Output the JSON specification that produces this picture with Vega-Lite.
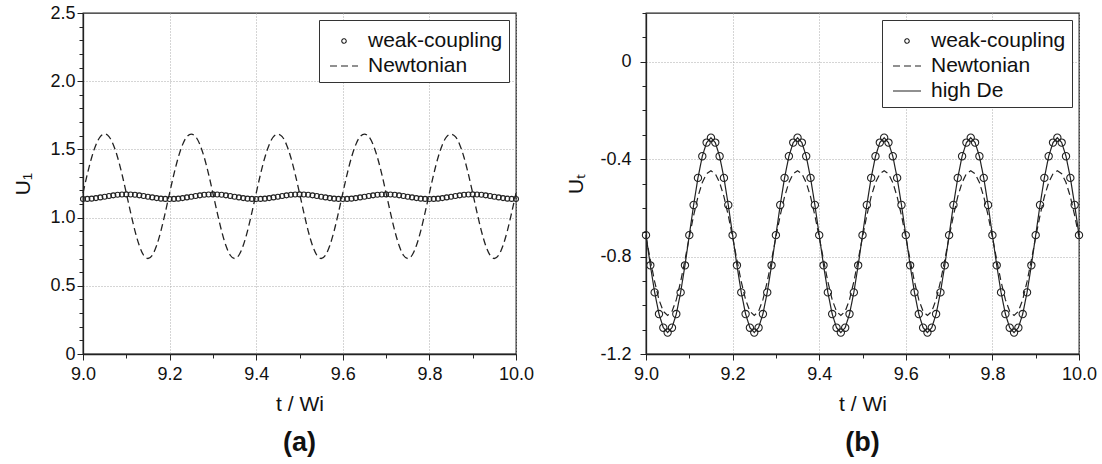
{
  "$schema": "https://vega.github.io/schema/vega-lite/v6.json",
  "background": "white",
  "padding": {"left": 12, "top": 3, "right": 5, "bottom": 2},
  "datasets": {
    "L": [
      {"t":9.00,"weak-coupling":1.136,"Newtonian":1.180},{"t":9.01,"weak-coupling":1.137,"Newtonian":1.319},{"t":9.02,"weak-coupling":1.139,"Newtonian":1.441},{"t":9.03,"weak-coupling":1.143,"Newtonian":1.535},{"t":9.04,"weak-coupling":1.148,"Newtonian":1.594},{"t":9.05,"weak-coupling":1.153,"Newtonian":1.614},{"t":9.06,"weak-coupling":1.158,"Newtonian":1.594},{"t":9.07,"weak-coupling":1.163,"Newtonian":1.535},{"t":9.08,"weak-coupling":1.167,"Newtonian":1.441},{"t":9.09,"weak-coupling":1.169,"Newtonian":1.319},
      {"t":9.10,"weak-coupling":1.170,"Newtonian":1.180},{"t":9.11,"weak-coupling":1.169,"Newtonian":1.037},{"t":9.12,"weak-coupling":1.167,"Newtonian":0.903},{"t":9.13,"weak-coupling":1.163,"Newtonian":0.795},{"t":9.14,"weak-coupling":1.158,"Newtonian":0.724},{"t":9.15,"weak-coupling":1.153,"Newtonian":0.700},{"t":9.16,"weak-coupling":1.148,"Newtonian":0.724},{"t":9.17,"weak-coupling":1.143,"Newtonian":0.795},{"t":9.18,"weak-coupling":1.139,"Newtonian":0.903},{"t":9.19,"weak-coupling":1.137,"Newtonian":1.037},
      {"t":9.20,"weak-coupling":1.136,"Newtonian":1.180},{"t":9.21,"weak-coupling":1.137,"Newtonian":1.319},{"t":9.22,"weak-coupling":1.139,"Newtonian":1.441},{"t":9.23,"weak-coupling":1.143,"Newtonian":1.535},{"t":9.24,"weak-coupling":1.148,"Newtonian":1.594},{"t":9.25,"weak-coupling":1.153,"Newtonian":1.612},{"t":9.26,"weak-coupling":1.158,"Newtonian":1.594},{"t":9.27,"weak-coupling":1.163,"Newtonian":1.535},{"t":9.28,"weak-coupling":1.167,"Newtonian":1.441},{"t":9.29,"weak-coupling":1.169,"Newtonian":1.319},
      {"t":9.30,"weak-coupling":1.170,"Newtonian":1.180},{"t":9.31,"weak-coupling":1.169,"Newtonian":1.037},{"t":9.32,"weak-coupling":1.167,"Newtonian":0.903},{"t":9.33,"weak-coupling":1.163,"Newtonian":0.795},{"t":9.34,"weak-coupling":1.158,"Newtonian":0.724},{"t":9.35,"weak-coupling":1.153,"Newtonian":0.700},{"t":9.36,"weak-coupling":1.148,"Newtonian":0.724},{"t":9.37,"weak-coupling":1.143,"Newtonian":0.795},{"t":9.38,"weak-coupling":1.139,"Newtonian":0.903},{"t":9.39,"weak-coupling":1.137,"Newtonian":1.037},
      {"t":9.40,"weak-coupling":1.136,"Newtonian":1.180},{"t":9.41,"weak-coupling":1.137,"Newtonian":1.319},{"t":9.42,"weak-coupling":1.139,"Newtonian":1.441},{"t":9.43,"weak-coupling":1.143,"Newtonian":1.535},{"t":9.44,"weak-coupling":1.148,"Newtonian":1.594},{"t":9.45,"weak-coupling":1.153,"Newtonian":1.612},{"t":9.46,"weak-coupling":1.158,"Newtonian":1.594},{"t":9.47,"weak-coupling":1.163,"Newtonian":1.535},{"t":9.48,"weak-coupling":1.167,"Newtonian":1.441},{"t":9.49,"weak-coupling":1.169,"Newtonian":1.319},
      {"t":9.50,"weak-coupling":1.170,"Newtonian":1.180},{"t":9.51,"weak-coupling":1.169,"Newtonian":1.037},{"t":9.52,"weak-coupling":1.167,"Newtonian":0.903},{"t":9.53,"weak-coupling":1.163,"Newtonian":0.795},{"t":9.54,"weak-coupling":1.158,"Newtonian":0.724},{"t":9.55,"weak-coupling":1.153,"Newtonian":0.700},{"t":9.56,"weak-coupling":1.148,"Newtonian":0.724},{"t":9.57,"weak-coupling":1.143,"Newtonian":0.795},{"t":9.58,"weak-coupling":1.139,"Newtonian":0.903},{"t":9.59,"weak-coupling":1.137,"Newtonian":1.037},
      {"t":9.60,"weak-coupling":1.136,"Newtonian":1.180},{"t":9.61,"weak-coupling":1.137,"Newtonian":1.319},{"t":9.62,"weak-coupling":1.139,"Newtonian":1.441},{"t":9.63,"weak-coupling":1.143,"Newtonian":1.535},{"t":9.64,"weak-coupling":1.148,"Newtonian":1.594},{"t":9.65,"weak-coupling":1.153,"Newtonian":1.612},{"t":9.66,"weak-coupling":1.158,"Newtonian":1.594},{"t":9.67,"weak-coupling":1.163,"Newtonian":1.535},{"t":9.68,"weak-coupling":1.167,"Newtonian":1.441},{"t":9.69,"weak-coupling":1.169,"Newtonian":1.319},
      {"t":9.70,"weak-coupling":1.170,"Newtonian":1.180},{"t":9.71,"weak-coupling":1.169,"Newtonian":1.037},{"t":9.72,"weak-coupling":1.167,"Newtonian":0.903},{"t":9.73,"weak-coupling":1.163,"Newtonian":0.795},{"t":9.74,"weak-coupling":1.158,"Newtonian":0.724},{"t":9.75,"weak-coupling":1.153,"Newtonian":0.700},{"t":9.76,"weak-coupling":1.148,"Newtonian":0.724},{"t":9.77,"weak-coupling":1.143,"Newtonian":0.795},{"t":9.78,"weak-coupling":1.139,"Newtonian":0.903},{"t":9.79,"weak-coupling":1.137,"Newtonian":1.037},
      {"t":9.80,"weak-coupling":1.136,"Newtonian":1.180},{"t":9.81,"weak-coupling":1.137,"Newtonian":1.319},{"t":9.82,"weak-coupling":1.139,"Newtonian":1.441},{"t":9.83,"weak-coupling":1.143,"Newtonian":1.535},{"t":9.84,"weak-coupling":1.148,"Newtonian":1.594},{"t":9.85,"weak-coupling":1.153,"Newtonian":1.612},{"t":9.86,"weak-coupling":1.158,"Newtonian":1.594},{"t":9.87,"weak-coupling":1.163,"Newtonian":1.535},{"t":9.88,"weak-coupling":1.167,"Newtonian":1.441},{"t":9.89,"weak-coupling":1.169,"Newtonian":1.319},
      {"t":9.90,"weak-coupling":1.170,"Newtonian":1.180},{"t":9.91,"weak-coupling":1.169,"Newtonian":1.037},{"t":9.92,"weak-coupling":1.167,"Newtonian":0.903},{"t":9.93,"weak-coupling":1.163,"Newtonian":0.795},{"t":9.94,"weak-coupling":1.158,"Newtonian":0.724},{"t":9.95,"weak-coupling":1.153,"Newtonian":0.700},{"t":9.96,"weak-coupling":1.148,"Newtonian":0.724},{"t":9.97,"weak-coupling":1.143,"Newtonian":0.795},{"t":9.98,"weak-coupling":1.139,"Newtonian":0.903},{"t":9.99,"weak-coupling":1.137,"Newtonian":1.037},
      {"t":10.00,"weak-coupling":1.136,"Newtonian":1.180}
    ],
    "R": [
      {"t":9.00,"weak-coupling":-0.712,"Newtonian":-0.720,"high De":-0.712},{"t":9.01,"weak-coupling":-0.836,"Newtonian":-0.814,"high De":-0.836},{"t":9.02,"weak-coupling":-0.947,"Newtonian":-0.903,"high De":-0.947},{"t":9.03,"weak-coupling":-1.036,"Newtonian":-0.977,"high De":-1.036},{"t":9.04,"weak-coupling":-1.092,"Newtonian":-1.025,"high De":-1.092},{"t":9.05,"weak-coupling":-1.112,"Newtonian":-1.042,"high De":-1.112},{"t":9.06,"weak-coupling":-1.092,"Newtonian":-1.025,"high De":-1.092},{"t":9.07,"weak-coupling":-1.036,"Newtonian":-0.977,"high De":-1.036},{"t":9.08,"weak-coupling":-0.947,"Newtonian":-0.903,"high De":-0.947},{"t":9.09,"weak-coupling":-0.836,"Newtonian":-0.814,"high De":-0.836},
      {"t":9.10,"weak-coupling":-0.712,"Newtonian":-0.720,"high De":-0.712},{"t":9.11,"weak-coupling":-0.588,"Newtonian":-0.631,"high De":-0.588},{"t":9.12,"weak-coupling":-0.477,"Newtonian":-0.554,"high De":-0.477},{"t":9.13,"weak-coupling":-0.388,"Newtonian":-0.496,"high De":-0.388},{"t":9.14,"weak-coupling":-0.332,"Newtonian":-0.460,"high De":-0.332},{"t":9.15,"weak-coupling":-0.312,"Newtonian":-0.448,"high De":-0.312},{"t":9.16,"weak-coupling":-0.332,"Newtonian":-0.460,"high De":-0.332},{"t":9.17,"weak-coupling":-0.388,"Newtonian":-0.496,"high De":-0.388},{"t":9.18,"weak-coupling":-0.477,"Newtonian":-0.554,"high De":-0.477},{"t":9.19,"weak-coupling":-0.588,"Newtonian":-0.631,"high De":-0.588},
      {"t":9.20,"weak-coupling":-0.712,"Newtonian":-0.720,"high De":-0.712},{"t":9.21,"weak-coupling":-0.836,"Newtonian":-0.814,"high De":-0.836},{"t":9.22,"weak-coupling":-0.947,"Newtonian":-0.903,"high De":-0.947},{"t":9.23,"weak-coupling":-1.036,"Newtonian":-0.977,"high De":-1.036},{"t":9.24,"weak-coupling":-1.092,"Newtonian":-1.025,"high De":-1.092},{"t":9.25,"weak-coupling":-1.112,"Newtonian":-1.042,"high De":-1.112},{"t":9.26,"weak-coupling":-1.092,"Newtonian":-1.025,"high De":-1.092},{"t":9.27,"weak-coupling":-1.036,"Newtonian":-0.977,"high De":-1.036},{"t":9.28,"weak-coupling":-0.947,"Newtonian":-0.903,"high De":-0.947},{"t":9.29,"weak-coupling":-0.836,"Newtonian":-0.814,"high De":-0.836},
      {"t":9.30,"weak-coupling":-0.712,"Newtonian":-0.720,"high De":-0.712},{"t":9.31,"weak-coupling":-0.588,"Newtonian":-0.631,"high De":-0.588},{"t":9.32,"weak-coupling":-0.477,"Newtonian":-0.554,"high De":-0.477},{"t":9.33,"weak-coupling":-0.388,"Newtonian":-0.496,"high De":-0.388},{"t":9.34,"weak-coupling":-0.332,"Newtonian":-0.460,"high De":-0.332},{"t":9.35,"weak-coupling":-0.312,"Newtonian":-0.448,"high De":-0.312},{"t":9.36,"weak-coupling":-0.332,"Newtonian":-0.460,"high De":-0.332},{"t":9.37,"weak-coupling":-0.388,"Newtonian":-0.496,"high De":-0.388},{"t":9.38,"weak-coupling":-0.477,"Newtonian":-0.554,"high De":-0.477},{"t":9.39,"weak-coupling":-0.588,"Newtonian":-0.631,"high De":-0.588},
      {"t":9.40,"weak-coupling":-0.712,"Newtonian":-0.720,"high De":-0.712},{"t":9.41,"weak-coupling":-0.836,"Newtonian":-0.814,"high De":-0.836},{"t":9.42,"weak-coupling":-0.947,"Newtonian":-0.903,"high De":-0.947},{"t":9.43,"weak-coupling":-1.036,"Newtonian":-0.977,"high De":-1.036},{"t":9.44,"weak-coupling":-1.092,"Newtonian":-1.025,"high De":-1.092},{"t":9.45,"weak-coupling":-1.112,"Newtonian":-1.042,"high De":-1.112},{"t":9.46,"weak-coupling":-1.092,"Newtonian":-1.025,"high De":-1.092},{"t":9.47,"weak-coupling":-1.036,"Newtonian":-0.977,"high De":-1.036},{"t":9.48,"weak-coupling":-0.947,"Newtonian":-0.903,"high De":-0.947},{"t":9.49,"weak-coupling":-0.836,"Newtonian":-0.814,"high De":-0.836},
      {"t":9.50,"weak-coupling":-0.712,"Newtonian":-0.720,"high De":-0.712},{"t":9.51,"weak-coupling":-0.588,"Newtonian":-0.631,"high De":-0.588},{"t":9.52,"weak-coupling":-0.477,"Newtonian":-0.554,"high De":-0.477},{"t":9.53,"weak-coupling":-0.388,"Newtonian":-0.496,"high De":-0.388},{"t":9.54,"weak-coupling":-0.332,"Newtonian":-0.460,"high De":-0.332},{"t":9.55,"weak-coupling":-0.312,"Newtonian":-0.448,"high De":-0.312},{"t":9.56,"weak-coupling":-0.332,"Newtonian":-0.460,"high De":-0.332},{"t":9.57,"weak-coupling":-0.388,"Newtonian":-0.496,"high De":-0.388},{"t":9.58,"weak-coupling":-0.477,"Newtonian":-0.554,"high De":-0.477},{"t":9.59,"weak-coupling":-0.588,"Newtonian":-0.631,"high De":-0.588},
      {"t":9.60,"weak-coupling":-0.712,"Newtonian":-0.720,"high De":-0.712},{"t":9.61,"weak-coupling":-0.836,"Newtonian":-0.814,"high De":-0.836},{"t":9.62,"weak-coupling":-0.947,"Newtonian":-0.903,"high De":-0.947},{"t":9.63,"weak-coupling":-1.036,"Newtonian":-0.977,"high De":-1.036},{"t":9.64,"weak-coupling":-1.092,"Newtonian":-1.025,"high De":-1.092},{"t":9.65,"weak-coupling":-1.112,"Newtonian":-1.042,"high De":-1.112},{"t":9.66,"weak-coupling":-1.092,"Newtonian":-1.025,"high De":-1.092},{"t":9.67,"weak-coupling":-1.036,"Newtonian":-0.977,"high De":-1.036},{"t":9.68,"weak-coupling":-0.947,"Newtonian":-0.903,"high De":-0.947},{"t":9.69,"weak-coupling":-0.836,"Newtonian":-0.814,"high De":-0.836},
      {"t":9.70,"weak-coupling":-0.712,"Newtonian":-0.720,"high De":-0.712},{"t":9.71,"weak-coupling":-0.588,"Newtonian":-0.631,"high De":-0.588},{"t":9.72,"weak-coupling":-0.477,"Newtonian":-0.554,"high De":-0.477},{"t":9.73,"weak-coupling":-0.388,"Newtonian":-0.496,"high De":-0.388},{"t":9.74,"weak-coupling":-0.332,"Newtonian":-0.460,"high De":-0.332},{"t":9.75,"weak-coupling":-0.312,"Newtonian":-0.448,"high De":-0.312},{"t":9.76,"weak-coupling":-0.332,"Newtonian":-0.460,"high De":-0.332},{"t":9.77,"weak-coupling":-0.388,"Newtonian":-0.496,"high De":-0.388},{"t":9.78,"weak-coupling":-0.477,"Newtonian":-0.554,"high De":-0.477},{"t":9.79,"weak-coupling":-0.588,"Newtonian":-0.631,"high De":-0.588},
      {"t":9.80,"weak-coupling":-0.712,"Newtonian":-0.720,"high De":-0.712},{"t":9.81,"weak-coupling":-0.836,"Newtonian":-0.814,"high De":-0.836},{"t":9.82,"weak-coupling":-0.947,"Newtonian":-0.903,"high De":-0.947},{"t":9.83,"weak-coupling":-1.036,"Newtonian":-0.977,"high De":-1.036},{"t":9.84,"weak-coupling":-1.092,"Newtonian":-1.025,"high De":-1.092},{"t":9.85,"weak-coupling":-1.112,"Newtonian":-1.042,"high De":-1.112},{"t":9.86,"weak-coupling":-1.092,"Newtonian":-1.025,"high De":-1.092},{"t":9.87,"weak-coupling":-1.036,"Newtonian":-0.977,"high De":-1.036},{"t":9.88,"weak-coupling":-0.947,"Newtonian":-0.903,"high De":-0.947},{"t":9.89,"weak-coupling":-0.836,"Newtonian":-0.814,"high De":-0.836},
      {"t":9.90,"weak-coupling":-0.712,"Newtonian":-0.720,"high De":-0.712},{"t":9.91,"weak-coupling":-0.588,"Newtonian":-0.631,"high De":-0.588},{"t":9.92,"weak-coupling":-0.477,"Newtonian":-0.554,"high De":-0.477},{"t":9.93,"weak-coupling":-0.388,"Newtonian":-0.496,"high De":-0.388},{"t":9.94,"weak-coupling":-0.332,"Newtonian":-0.460,"high De":-0.332},{"t":9.95,"weak-coupling":-0.312,"Newtonian":-0.448,"high De":-0.312},{"t":9.96,"weak-coupling":-0.332,"Newtonian":-0.460,"high De":-0.332},{"t":9.97,"weak-coupling":-0.388,"Newtonian":-0.496,"high De":-0.388},{"t":9.98,"weak-coupling":-0.477,"Newtonian":-0.554,"high De":-0.477},{"t":9.99,"weak-coupling":-0.588,"Newtonian":-0.631,"high De":-0.588},
      {"t":10.00,"weak-coupling":-0.712,"Newtonian":-0.720,"high De":-0.712}
    ]
  },
  "config": {
    "font": "Liberation Sans",
    "view": {"stroke": "#222", "strokeWidth": 1.3},
    "axis": {
      "domainColor": "#222", "domainWidth": 1.3, "tickColor": "#222", "tickWidth": 1,
      "labelFont": "Liberation Sans", "labelFontSize": 18, "labelColor": "#111",
      "titleFont": "Liberation Sans", "titleFontSize": 21, "titleFontWeight": "normal", "titleColor": "#111",
      "grid": true, "gridColor": "#aaa", "gridDash": [1, 2], "gridWidth": 1,
      "labelFlush": false, "labelOverlap": false
    },
    "legend": {
      "orient": "top-right", "offset": 7, "padding": 6, "strokeColor": "#333", "fillColor": "white",
      "labelFont": "Liberation Sans", "labelFontSize": 21, "labelColor": "#111", "labelOffset": 9,
      "symbolSize": 784, "rowPadding": 0, "symbolStrokeWidth": 1.1, "symbolStrokeColor": "#222",
      "symbolFillColor": "transparent", "symbolOffset": 4
    },
    "title": {"font": "Liberation Sans"}
  },
  "spacing": 130,
  "bounds": "flush",
  "resolve": {
    "scale": {"shape": "independent", "strokeDash": "independent"},
    "legend": {"shape": "independent", "strokeDash": "independent"}
  },
  "hconcat": [
    {
      "width": 433, "height": 341,
      "title": {"text": "(a)", "orient": "bottom", "fontSize": 27, "fontWeight": "bold", "color": "#111", "offset": 16, "anchor": "middle"},
      "data": {"name": "L"},
      "encoding": {
        "x": {"field": "t", "type": "quantitative", "scale": {"domain": [9, 10], "nice": false, "zero": false},
          "axis": {"title": "t / Wi", "values": [9, 9.1, 9.2, 9.3, 9.4, 9.5, 9.6, 9.7, 9.8, 9.9, 10],
            "labelExpr": "abs(datum.value*5 - round(datum.value*5)) < 0.001 ? format(datum.value, '.1f') : ''",
            "tickSize": {"condition": {"test": "abs(datum.value*5 - round(datum.value*5)) < 0.001", "value": 6}, "value": 4},
            "gridOpacity": {"condition": {"test": "abs(datum.value*5 - round(datum.value*5)) < 0.001", "value": 1}, "value": 0},
            "labelPadding": 5, "titlePadding": 10}},
        "y": {"field": "value", "type": "quantitative", "scale": {"domain": [0, 2.5], "nice": false, "zero": false},
          "axis": {"title": "U₁", "values": [0, 0.1, 0.2, 0.3, 0.4, 0.5, 0.6, 0.7, 0.8, 0.9, 1, 1.1, 1.2, 1.3, 1.4, 1.5, 1.6, 1.7, 1.8, 1.9, 2, 2.1, 2.2, 2.3, 2.4, 2.5],
            "labelExpr": "abs(datum.value*2 - round(datum.value*2)) < 0.001 ? (datum.value == 0 ? '0' : format(datum.value, '.1f')) : ''",
            "tickSize": {"condition": {"test": "abs(datum.value*2 - round(datum.value*2)) < 0.001", "value": 6}, "value": 4},
            "gridOpacity": {"condition": {"test": "abs(datum.value*2 - round(datum.value*2)) < 0.001 && datum.value > 0 && datum.value < 2.5", "value": 1}, "value": 0},
            "labelPadding": 2, "titlePadding": 16}}
      },
      "layer": [
        {
          "transform": [{"fold": ["Newtonian"], "as": ["series", "value"]}],
          "mark": {"type": "line", "color": "#222", "strokeWidth": 1.3, "interpolate": "monotone"},
          "encoding": {
            "strokeDash": {"field": "series", "type": "nominal",
              "scale": {"domain": ["weak-coupling", "Newtonian"], "range": [[1, 0], [7, 4]]},
              "legend": {"title": null}}
          }
        },
        {
          "transform": [{"fold": ["weak-coupling"], "as": ["series", "value"]}],
          "mark": {"type": "point", "filled": false, "color": "#222", "strokeWidth": 1.1, "size": 977, "opacity": 1},
          "encoding": {
            "shape": {"field": "series", "type": "nominal",
              "scale": {"domain": ["weak-coupling", "Newtonian"], "range": ["M-0.16,0A0.16,0.16,0,1,1,0.16,0A0.16,0.16,0,1,1,-0.16,0Z", "M-1,0H1"]},
              "legend": {"title": null}}
          }
        }
      ]
    },
    {
      "width": 433, "height": 341,
      "title": {"text": "(b)", "orient": "bottom", "fontSize": 27, "fontWeight": "bold", "color": "#111", "offset": 16, "anchor": "middle"},
      "data": {"name": "R"},
      "encoding": {
        "x": {"field": "t", "type": "quantitative", "scale": {"domain": [9, 10], "nice": false, "zero": false},
          "axis": {"title": "t / Wi", "values": [9, 9.1, 9.2, 9.3, 9.4, 9.5, 9.6, 9.7, 9.8, 9.9, 10],
            "labelExpr": "abs(datum.value*5 - round(datum.value*5)) < 0.001 ? format(datum.value, '.1f') : ''",
            "tickSize": {"condition": {"test": "abs(datum.value*5 - round(datum.value*5)) < 0.001", "value": 6}, "value": 4},
            "gridOpacity": {"condition": {"test": "abs(datum.value*5 - round(datum.value*5)) < 0.001", "value": 1}, "value": 0},
            "labelPadding": 5, "titlePadding": 10}},
        "y": {"field": "value", "type": "quantitative", "scale": {"domain": [-1.2, 0.2], "nice": false, "zero": false},
          "axis": {"title": "Uₜ", "values": [-1.2, -1.1, -1, -0.9, -0.8, -0.7, -0.6, -0.5, -0.4, -0.3, -0.2, -0.1, 0, 0.1, 0.2],
            "labelExpr": "abs(datum.value*2.5 - round(datum.value*2.5)) < 0.001 ? (datum.value == 0 ? '0' : (datum.value < 0 ? '-' + format(-datum.value, '.1f') : format(datum.value, '.1f'))) : ''",
            "tickSize": {"condition": {"test": "abs(datum.value*2.5 - round(datum.value*2.5)) < 0.001", "value": 6}, "value": 4},
            "gridOpacity": {"condition": {"test": "abs(datum.value*2.5 - round(datum.value*2.5)) < 0.001 && datum.value > -1.19", "value": 1}, "value": 0},
            "labelPadding": 9, "titlePadding": 13}}
      },
      "layer": [
        {
          "transform": [{"fold": ["Newtonian", "high De"], "as": ["series", "value"]}],
          "mark": {"type": "line", "color": "#222", "strokeWidth": 1.2},
          "encoding": {
            "strokeDash": {"field": "series", "type": "nominal",
              "scale": {"domain": ["weak-coupling", "Newtonian", "high De"], "range": [[1, 0], [7, 4], [1, 0]]},
              "legend": {"title": null}}
          }
        },
        {
          "transform": [{"fold": ["weak-coupling"], "as": ["series", "value"]}],
          "mark": {"type": "point", "filled": false, "color": "#222", "strokeWidth": 1.1, "size": 2080, "opacity": 1},
          "encoding": {
            "shape": {"field": "series", "type": "nominal",
              "scale": {"domain": ["weak-coupling", "Newtonian", "high De"], "range": ["M-0.16,0A0.16,0.16,0,1,1,0.16,0A0.16,0.16,0,1,1,-0.16,0Z", "M-1,0H1", "M-1,0H1"]},
              "legend": {"title": null}}
          }
        }
      ]
    }
  ]
}
